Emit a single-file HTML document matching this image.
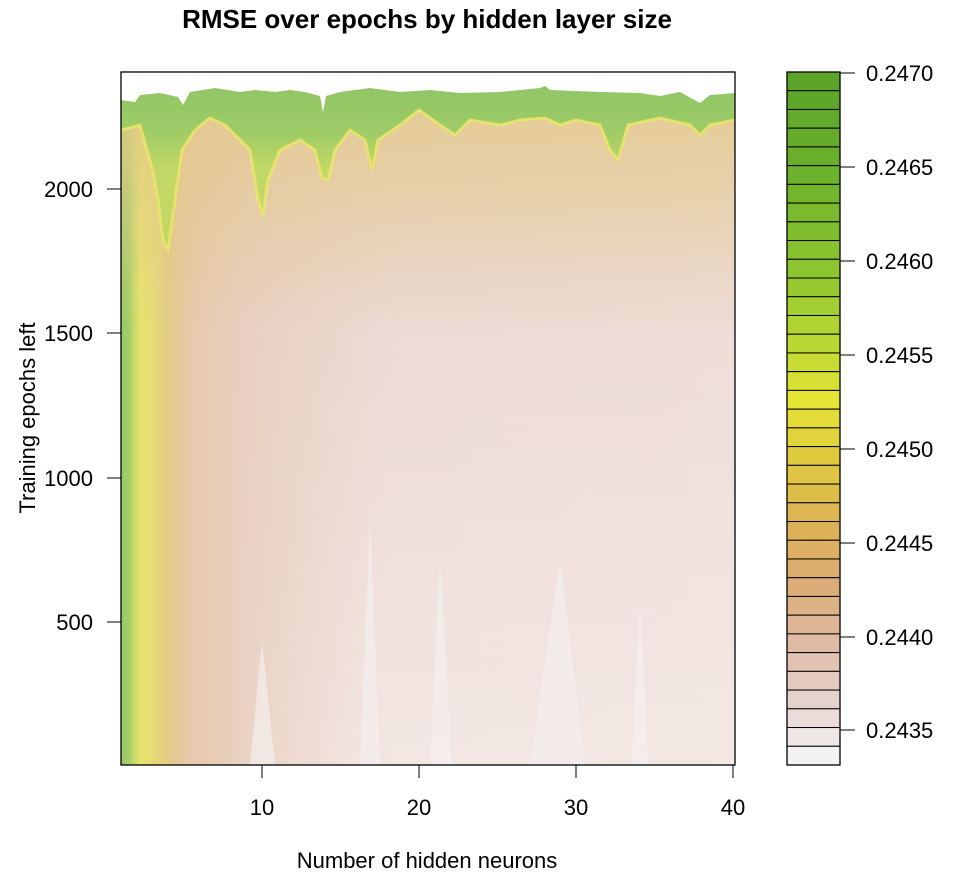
<!DOCTYPE html>
<html><head><meta charset="utf-8"><style>
body{margin:0;background:#fff;}
text{font-family:"Liberation Sans",sans-serif;fill:#000;}
</style></head><body>
<svg id="s" width="954" height="879" xmlns="http://www.w3.org/2000/svg">
<defs>
<linearGradient id="hg" x1="121" x2="735" y1="0" y2="0" gradientUnits="userSpaceOnUse">
<stop offset="0" stop-color="#96c966"/>
<stop offset="0.012" stop-color="#a2cd66"/>
<stop offset="0.022" stop-color="#cadb6a"/>
<stop offset="0.032" stop-color="#e8e46c"/>
<stop offset="0.055" stop-color="#e6da78"/>
<stop offset="0.075" stop-color="#e2cd86"/>
<stop offset="0.09" stop-color="#e3c996"/>
<stop offset="0.12" stop-color="#e7caaf"/>
<stop offset="0.2" stop-color="#e9cfc0"/>
<stop offset="0.45" stop-color="#ebd7d1"/>
<stop offset="1" stop-color="#eddad4"/>
</linearGradient>
<linearGradient id="vw" x1="0" x2="0" y1="200" y2="765" gradientUnits="userSpaceOnUse">
<stop offset="0" stop-color="#fff" stop-opacity="0"/>
<stop offset="1" stop-color="#fff" stop-opacity="0.4"/>
</linearGradient>
<linearGradient id="vwx" x1="121" x2="735" y1="0" y2="0" gradientUnits="userSpaceOnUse">
<stop offset="0" stop-color="#fff" stop-opacity="0"/>
<stop offset="0.15" stop-color="#fff" stop-opacity="0"/>
<stop offset="0.4" stop-color="#fff" stop-opacity="1"/>
<stop offset="1" stop-color="#fff" stop-opacity="1"/>
</linearGradient>
<mask id="mk"><rect x="121" y="72" width="614" height="693" fill="url(#vwx)"/></mask>
<linearGradient id="gg" x1="0" x2="0" y1="90" y2="170" gradientUnits="userSpaceOnUse">
<stop offset="0" stop-color="#92c666"/>
<stop offset="0.5" stop-color="#9dcb66"/>
<stop offset="1" stop-color="#c2d866"/>
</linearGradient>
<linearGradient id="yb" x1="0" x2="0" y1="110" y2="330" gradientUnits="userSpaceOnUse">
<stop offset="0" stop-color="#e3c98a" stop-opacity="0.85"/>
<stop offset="1" stop-color="#e3c98a" stop-opacity="0"/>
</linearGradient>
<clipPath id="pc"><rect x="121" y="72" width="614" height="693"/></clipPath>
</defs>
<g clip-path="url(#pc)">
<rect x="121" y="72" width="614" height="693" fill="url(#hg)"/>
<rect x="121" y="72" width="614" height="693" fill="url(#vw)" mask="url(#mk)"/>
<g fill="#f4efee" opacity="0.7">
<polygon points="360,765 370,520 380,765"/>
<polygon points="430,765 440,560 452,765"/>
<polygon points="530,765 560,560 585,765"/>
<polygon points="632,765 640,600 648,765"/>
<polygon points="250,765 262,640 275,765"/>
</g>
<polygon points="121,130 140,125 147,150 153,172 158,200 163,240 168,250 175,200 182,150 195,130 210,118 225,125 250,150 258,200 263,215 268,180 280,150 300,140 315,150 322,178 328,180 335,150 350,130 365,140 372,170 378,140 400,125 419,110 440,125 455,135 470,120 500,125 520,120 545,118 560,125 576,120 600,125 610,150 618,160 628,125 660,118 690,125 700,135 710,125 735,120 735,340 121,340" fill="url(#yb)"/>
<rect x="121" y="72" width="614" height="40" fill="#fff"/>
<polygon id="gp" fill="url(#gg)" points="121,100 135,102 140,95 160,93 178,97 183,105 190,92 215,88 240,92 255,90 275,92 290,90 305,92 320,96 323,112 326,96 340,92 370,88 400,92 430,90 460,93 500,92 540,88 545,86 550,90 600,92 640,93 660,96 680,92 700,103 710,95 735,93 735,120 710,125 700,135 690,125 660,118 628,125 618,160 610,150 600,125 576,120 560,125 545,118 520,120 500,125 470,120 455,135 440,125 419,110 400,125 378,140 372,170 365,140 350,130 335,150 328,180 322,178 315,150 300,140 280,150 268,180 263,215 258,200 250,150 225,125 210,118 195,130 182,150 175,200 168,250 163,240 158,200 153,172 147,150 140,125 121,130"/>
<polyline fill="none" stroke="#ebe56a" stroke-width="3" opacity="0.85" points="121,130 140,125 147,150 153,172 158,200 163,240 168,250 175,200 182,150 195,130 210,118 225,125 250,150 258,200 263,215 268,180 280,150 300,140 315,150 322,178 328,180 335,150 350,130 365,140 372,170 378,140 400,125 419,110 440,125 455,135 470,120 500,125 520,120 545,118 560,125 576,120 600,125 610,150 618,160 628,125 660,118 690,125 700,135 710,125 735,120"/>
</g>
<rect x="121" y="72" width="614" height="693" fill="none" stroke="#000" stroke-width="1.3"/>
<text x="427" y="28" font-size="26" font-weight="bold" text-anchor="middle">RMSE over epochs by hidden layer size</text>
<g stroke="#000" stroke-width="1">
<line x1="262" y1="765" x2="262" y2="778"/><line x1="419" y1="765" x2="419" y2="778"/>
<line x1="576" y1="765" x2="576" y2="778"/><line x1="733" y1="765" x2="733" y2="778"/>
<line x1="107" y1="189" x2="121" y2="189"/><line x1="107" y1="333" x2="121" y2="333"/>
<line x1="107" y1="478" x2="121" y2="478"/><line x1="107" y1="622" x2="121" y2="622"/>
</g>
<g font-size="22" text-anchor="middle">
<text x="262" y="815">10</text><text x="419" y="815">20</text><text x="576" y="815">30</text><text x="733" y="815">40</text>
</g>
<g font-size="22" text-anchor="end">
<text x="93" y="197">2000</text><text x="93" y="341">1500</text><text x="93" y="486">1000</text><text x="93" y="630">500</text>
</g>
<text x="427" y="868" font-size="22" text-anchor="middle">Number of hidden neurons</text>
<text transform="translate(35,418) rotate(-90)" font-size="22" text-anchor="middle">Training epochs left</text>
<g id="cb"></g>
<rect x="787" y="72" width="53" height="693" fill="none" stroke="#000" stroke-width="1.3"/>
<g stroke="#000" stroke-width="1">
<line x1="840" y1="73" x2="855" y2="73"/><line x1="840" y1="167" x2="855" y2="167"/>
<line x1="840" y1="261" x2="855" y2="261"/><line x1="840" y1="355" x2="855" y2="355"/>
<line x1="840" y1="449" x2="855" y2="449"/><line x1="840" y1="543" x2="855" y2="543"/>
<line x1="840" y1="637" x2="855" y2="637"/><line x1="840" y1="730" x2="855" y2="730"/>
</g>
<g font-size="22">
<text x="866" y="81">0.2470</text><text x="866" y="175">0.2465</text><text x="866" y="269">0.2460</text>
<text x="866" y="363">0.2455</text><text x="866" y="457">0.2450</text><text x="866" y="551">0.2445</text>
<text x="866" y="645">0.2440</text><text x="866" y="738">0.2435</text>
</g>
</svg>
<script>
var k=[[0,"5ca42a"],[5,"6cb22c"],[10,"8cc530"],[14,"b9d834"],[17,"e6e535"],[20,"dfca3e"],[24,"ddb158"],[27,"dcad78"],[30,"e0bba3"],[33,"e6d2cc"],[35,"efe6e6"],[36,"f2f2f2"]];
function h(s){return [0,2,4].map(function(i){return parseInt(s.substr(i,2),16)})}
var g=document.getElementById("cb"),n=37,t=72,b=765,hh=(b-t)/n,out="";
for(var i=0;i<n;i++){var j=0;while(j<k.length-2&&k[j+1][0]<=i)j++;var a=k[j],c=k[j+1],f=(i-a[0])/(c[0]-a[0]);f=Math.max(0,Math.min(1,f));var A=h(a[1]),C=h(c[1]);var col="rgb("+A.map(function(v,q){return Math.round(v+(C[q]-v)*f)}).join(",")+")";
out+='<rect x="787" y="'+(t+i*hh)+'" width="53" height="'+hh+'" fill="'+col+'" stroke="#000" stroke-width="1"/>';}
g.innerHTML=out;
</script>
</body></html>
